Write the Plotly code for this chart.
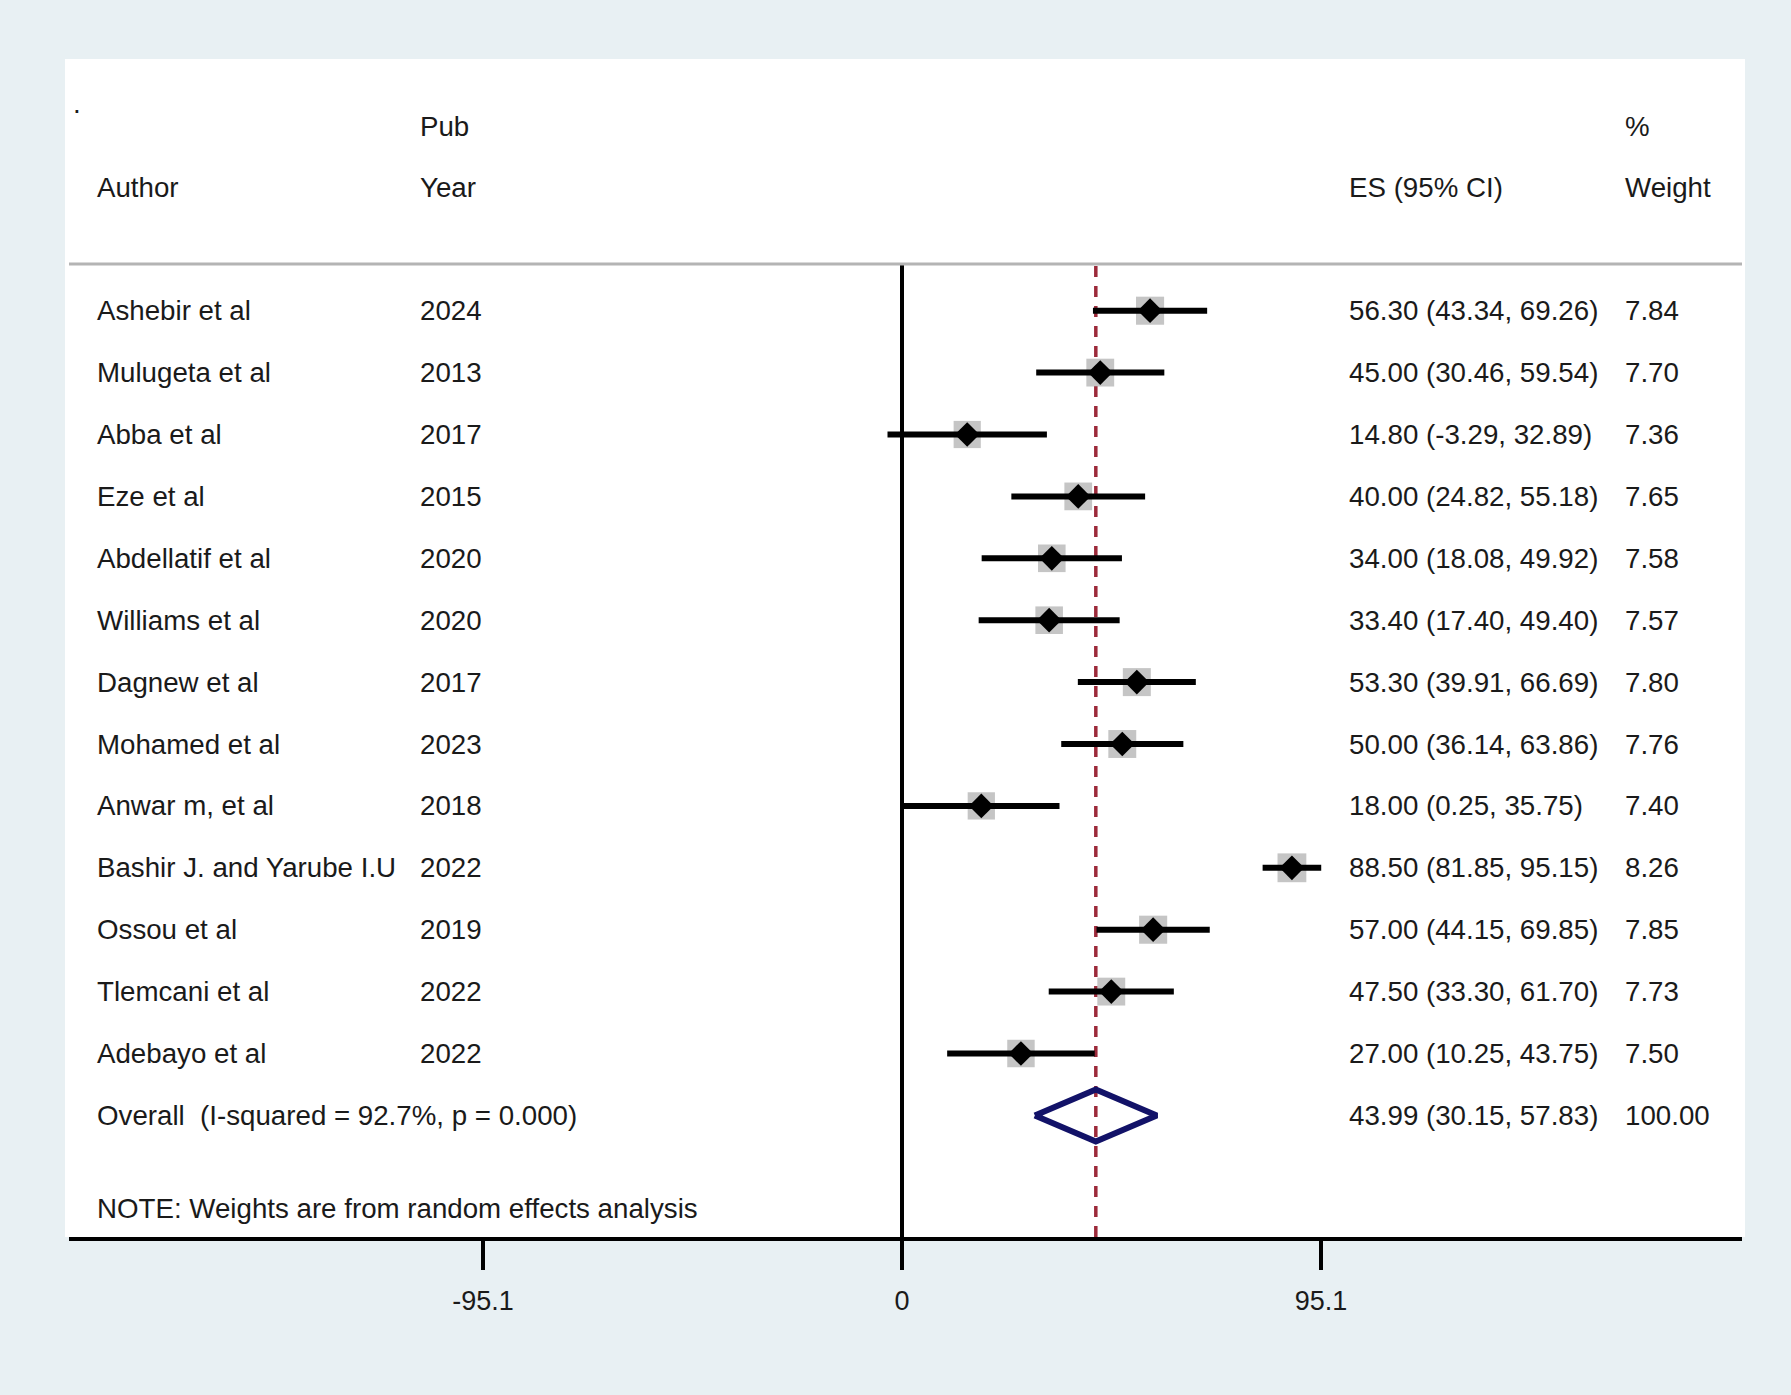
import plotly.graph_objects as go

authors = ["Ashebir et al", "Mulugeta et al", "Abba et al", "Eze et al", "Abdellatif et al",
           "Williams et al", "Dagnew et al", "Mohamed et al", "Anwar m, et al",
           "Bashir J. and Yarube I.U", "Ossou et al", "Tlemcani et al", "Adebayo et al"]
years = [2024, 2013, 2017, 2015, 2020, 2020, 2017, 2023, 2018, 2022, 2019, 2022, 2022]
es = [56.30, 45.00, 14.80, 40.00, 34.00, 33.40, 53.30, 50.00, 18.00, 88.50, 57.00, 47.50, 27.00]
lo = [43.34, 30.46, -3.29, 24.82, 18.08, 17.40, 39.91, 36.14, 0.25, 81.85, 44.15, 33.30, 10.25]
hi = [69.26, 59.54, 32.89, 55.18, 49.92, 49.40, 66.69, 63.86, 35.75, 95.15, 69.85, 61.70, 43.75]
weights = [7.84, 7.70, 7.36, 7.65, 7.58, 7.57, 7.80, 7.76, 7.40, 8.26, 7.85, 7.73, 7.50]
overall_es, overall_lo, overall_hi, overall_w = 43.99, 30.15, 57.83, 100.00
i2, pval = 92.7, 0.000
tick_vals = [-95.1, 0, 95.1]
tick_text = ["-95.1", "0", "95.1"]

W, H = 1791, 1395
FONT = "Liberation Sans, Arial, sans-serif"
FS = 27.7
TXT = "#1a1a1a"
BG = "#e8f0f3"

rows = list(range(1, len(authors) + 1))
overall_row = len(authors) + 1
note_row = overall_row + 1.5

def px(x):
    return x / W

def py(y):
    return 1 - y / H

fig = go.Figure()

# weight boxes
box_sizes = [28 * (w / 7.8) ** 0.5 for w in weights]
fig.add_trace(go.Scatter(x=es, y=rows, mode="markers",
                         marker=dict(symbol="square", size=box_sizes, color="#acacac",
                                     line=dict(width=0)),
                         hoverinfo="skip", showlegend=False))
# CI lines
cx, cy = [], []
for l, h, r in zip(lo, hi, rows):
    cx += [l, h, None]
    cy += [r, r, None]
fig.add_trace(go.Scatter(x=cx, y=cy, mode="lines", line=dict(color="black", width=6),
                         hoverinfo="skip", showlegend=False))
# point estimates
fig.add_trace(go.Scatter(x=es, y=rows, mode="markers",
                         marker=dict(symbol="diamond", size=19, color="black"),
                         hoverinfo="skip", showlegend=False))
# overall diamond
hh = 0.42
fig.add_trace(go.Scatter(x=[overall_lo, overall_es, overall_hi, overall_es, overall_lo],
                         y=[overall_row, overall_row - hh, overall_row, overall_row + hh, overall_row],
                         mode="lines", line=dict(color="#121268", width=6),
                         hoverinfo="skip", showlegend=False))

# axes geometry
ax_left, ax_right = 69, 1742
y_top, y_bot = 264, 1237
row1_px, row_step = 310.7, 61.9

shapes = []
# white panel
shapes.append(dict(type="rect", xref="paper", yref="paper", x0=px(65), x1=px(1745),
                   y0=py(y_bot), y1=py(59), fillcolor="white", line=dict(width=0), layer="below"))
# header gray line
shapes.append(dict(type="line", xref="paper", yref="paper", x0=px(ax_left), x1=px(ax_right),
                   y0=py(y_top), y1=py(y_top), line=dict(color="#b4b4b4", width=3)))
# zero line
shapes.append(dict(type="line", xref="x", yref="y domain", x0=0, x1=0, y0=0, y1=1,
                   line=dict(color="black", width=4), layer="below"))
# overall effect dashed line
shapes.append(dict(type="line", xref="x", yref="y domain", x0=overall_es, x1=overall_es, y0=0, y1=1,
                   line=dict(color="#9c2a3a", width=3.5, dash="11px,9px"), layer="below"))

ann = []
def add_text(x, y, text, yref="y"):
    ann.append(dict(x=x, y=y, xref="paper", yref=yref, text=text, showarrow=False,
                    xanchor="left", yanchor="middle", font=dict(family=FONT, size=FS, color=TXT)))

col_author, col_year, col_es, col_w = px(95), px(418), px(1347), px(1623)

add_text(px(71), py(104), ".", yref="paper")
add_text(col_year, py(126), "Pub", yref="paper")
add_text(col_w, py(126), "%", yref="paper")
add_text(col_author, py(187), "Author", yref="paper")
add_text(col_year, py(187), "Year", yref="paper")
add_text(col_es, py(187), "ES (95% CI)", yref="paper")
add_text(col_w, py(187), "Weight", yref="paper")

for a, yr, e, l, h, w, r in zip(authors, years, es, lo, hi, weights, rows):
    add_text(col_author, r, a)
    add_text(col_year, r, str(yr))
    add_text(col_es, r, f"{e:.2f} ({l:.2f}, {h:.2f})")
    add_text(col_w, r, f"{w:.2f}")

add_text(col_author, overall_row, f"Overall\u00a0 (I-squared = {i2:.1f}%, p = {pval:.3f})")
add_text(col_es, overall_row, f"{overall_es:.2f} ({overall_lo:.2f}, {overall_hi:.2f})")
add_text(col_w, overall_row, f"{overall_w:.2f}")
add_text(col_author, note_row, "NOTE: Weights are from random effects analysis")

zero_px = 902
upx = 419 / 95.1
r0 = -(zero_px - ax_left) / upx
r1 = (ax_right - zero_px) / upx

ytop_val = (y_top - row1_px) / row_step + 1
ybot_val = (y_bot - row1_px) / row_step + 1

fig.update_layout(
    width=W, height=H, margin=dict(l=0, r=0, t=0, b=0),
    paper_bgcolor=BG, plot_bgcolor="white",
    shapes=shapes, annotations=ann, showlegend=False,
    xaxis=dict(domain=[px(ax_left), px(ax_right)], range=[r0, r1],
               showgrid=False, zeroline=False, showline=True, linecolor="black", linewidth=4,
               ticks="outside", ticklen=29, tickwidth=4, tickcolor="black",
               tickvals=tick_vals, ticktext=tick_text, ticklabelstandoff=8,
               tickfont=dict(family=FONT, size=27, color=TXT), fixedrange=True),
    yaxis=dict(domain=[py(y_bot), py(y_top)], range=[ybot_val, ytop_val], visible=False,
               showgrid=False, zeroline=False, fixedrange=True),
)

fig.write_html("out.html", config={"displayModeBar": False},
               post_script="document.body.style.margin='0';document.body.style.padding='0';"
                           "document.body.style.overflow='hidden';"
                           f"document.body.style.background='{BG}';")
